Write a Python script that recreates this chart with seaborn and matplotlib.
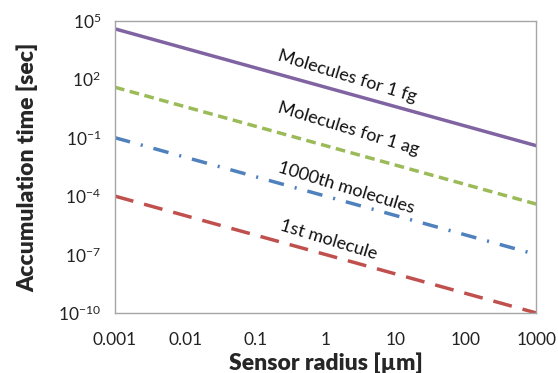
import numpy as np
import pandas as pd
import matplotlib
matplotlib.use('Agg')
import matplotlib.pyplot as plt
import matplotlib.ticker as mticker
import seaborn as sns

# Sensor radius (um) at each decade and accumulation time (sec) for each curve
radius = [0.001, 0.01, 0.1, 1, 10, 100, 1000]
t_fg = [3.9e4, 3.9e3, 3.9e2, 3.9e1, 3.9, 0.39, 0.039]
t_ag = [39, 3.9, 0.39, 0.039, 3.9e-3, 3.9e-4, 3.9e-5]
t_1000th = [1e-1, 1e-2, 1e-3, 1e-4, 1e-5, 1e-6, 1e-7]
t_1st = [1e-4, 1e-5, 1e-6, 1e-7, 1e-8, 1e-9, 1e-10]

x_ticks = [0.001, 0.01, 0.1, 1, 10, 100, 1000]
x_ticklabels = ['0.001', '0.01', '0.1', '1', '10', '100', '1000']
y_exps = [-10, -7, -4, -1, 2, 5]

sns.set_theme(style='white')
plt.rcParams['font.family'] = ['Lato', 'DejaVu Sans']
plt.rcParams['mathtext.fontset'] = 'custom'
plt.rcParams['mathtext.rm'] = 'Lato'
plt.rcParams['mathtext.it'] = 'Lato:italic'
plt.rcParams['mathtext.bf'] = 'Lato:bold'

fig = plt.figure(figsize=(5.58, 3.73), dpi=100)
ax = fig.add_axes([0.206, 0.161, 0.755, 0.783])

series = [
    (t_fg, '#8064A2', '-'),
    (t_ag, '#9BBB59', (0, (2.8, 1.6))),
    (t_1000th, '#4F81BD', (0, (4.5, 3.2, 0.6, 3.2))),
    (t_1st, '#C0504D', (0, (5.5, 3.2))),
]
for vals, color, ls in series:
    sns.lineplot(x=radius, y=vals, ax=ax, color=color, linestyle=ls, linewidth=2.5)

ax.set_xscale('log')
ax.set_yscale('log')
ax.set_xlim(0.001, 1000)
ax.set_ylim(1e-10, 1e5)
ax.set_xticks(x_ticks)
ax.set_xticklabels(x_ticklabels)
ax.xaxis.set_minor_locator(mticker.NullLocator())
ax.set_yticks([10.0 ** e for e in y_exps])
ax.set_yticklabels([r'$\mathregular{10^{%d}}$' % e for e in y_exps])
ax.yaxis.set_minor_locator(mticker.NullLocator())

ax.tick_params(axis='both', which='major', direction='out', length=5, width=1,
               color='#A0A0A0', labelsize=12.5, labelcolor='#222222')
ax.tick_params(axis='x', pad=9)
ax.tick_params(axis='y', pad=5)
for s in ax.spines.values():
    s.set_color('#A6A6A6')
    s.set_linewidth(1)

ax.set_xlabel('Sensor radius [\u00b5m]', fontsize=16.5, fontweight='heavy', labelpad=3)
ax.set_ylabel('Accumulation time [sec]', fontsize=16.5, fontweight='heavy', labelpad=14)

labels = [
    ('Molecules for 1 fg', 0.2, 1e3),
    ('Molecules for 1 ag', 0.2, 2.1),
    ('1000th molecules', 0.2, 1.8e-3),
    ('1st molecule', 0.22, 1.9e-6),
]
for txt, xv, yv in labels:
    ax.text(xv, yv, txt, fontsize=13, rotation=-17, rotation_mode='anchor',
            ha='left', va='baseline', color='#111111')

fig.savefig('out.png', dpi=100)
